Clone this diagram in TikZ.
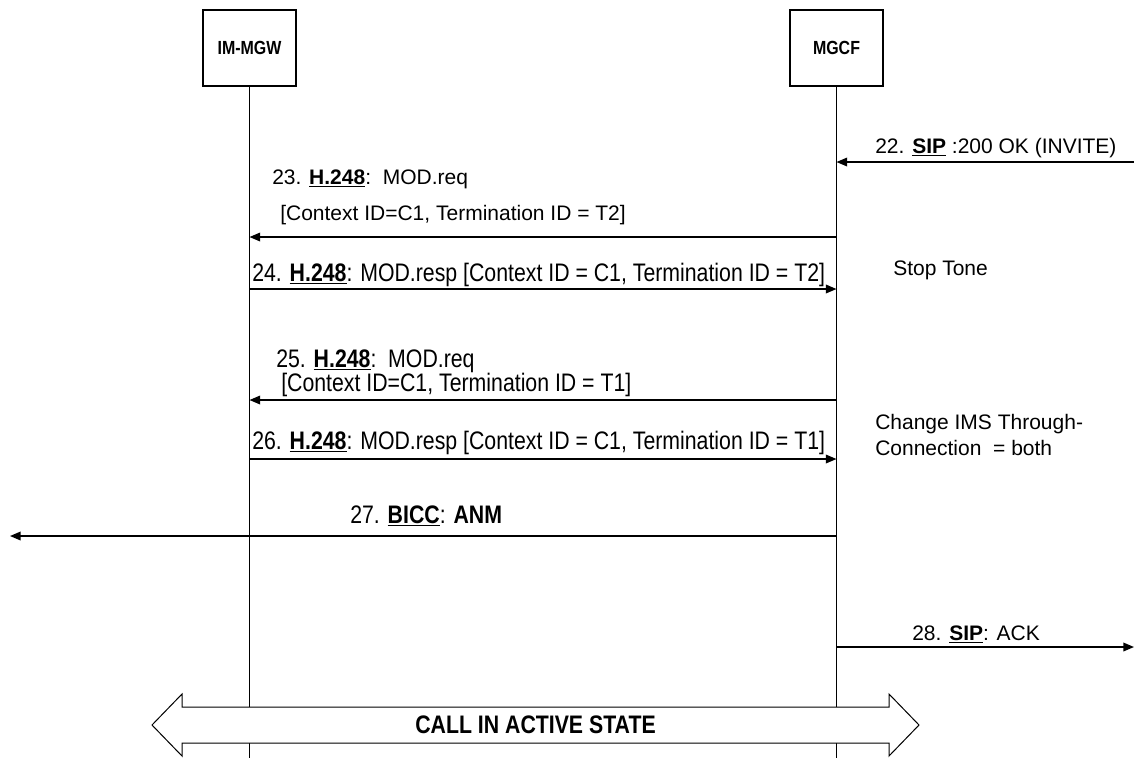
\documentclass[tikz,border=0pt]{standalone}
\usepackage{fontspec}
\setmainfont{Liberation Sans}
\newfontfamily\narrowfont[FakeStretch=0.84]{Liberation Sans}
\usetikzlibrary{arrows.meta,positioning}

\newcommand{\proto}[1]{\underline{\textbf{#1}}}

\begin{document}
\begin{tikzpicture}[x=0.75pt,y=-0.75pt,
  entity/.style={rectangle,draw,line width=1.5pt,minimum width=69.75pt,minimum height=57pt,font=\narrowfont\fontsize{14.25}{16}\selectfont\bfseries},
  lifeline/.style={line width=0.75pt},
  msg/.style={-{Triangle[length=8pt,width=6.5pt]},line width=1.1pt},
  note/.style={anchor=base west,inner sep=0pt,font=\fontsize{15.75}{18}\selectfont},
  narrownote/.style={anchor=base west,inner sep=0pt,font=\narrowfont\fontsize{19}{21}\selectfont}
]
\useasboundingbox (0,0) rectangle (1134,758);

\node[entity] (mgw) at (249.5,48) {IM-MGW};
\node[entity] (mgcf) at (836.5,48) {MGCF};
\coordinate (mgwend) at (249.5,758);
\coordinate (mgcfend) at (836.5,758);
\draw[lifeline] (mgw) -- (mgwend);
\draw[lifeline] (mgcf) -- (mgcfend);

% message levels on both lifelines
\foreach \y/\n in {162/22,237/23,289/24,400/25,459/26,536/27,647/28}{
  \coordinate (mgw\n) at (249.5,\y);
  \coordinate (mgcf\n) at (836.5,\y);
}
\coordinate (right22) at (1134,162);
\coordinate (left27) at (10,536);
\coordinate (right28) at (1134,647);

\node[note] (l22) at (875,153) {22. \proto{SIP} :200 OK (INVITE)};
\draw[msg] (right22) -- (mgcf22);

\node[note] (l23a) at (272,184) {23. \proto{H.248}:\ \ MOD.req};
\node[note] (l23b) at (280,220) {[Context ID=C1, Termination ID = T2]};
\draw[msg] (mgcf23) -- (mgw23);

\node[narrownote] (l24) at (252,281) {24. \proto{H.248}: MOD.resp [Context ID = C1, Termination ID = T2]};
\draw[msg] (mgw24) -- (mgcf24);
\node[note] (stop) at (893,275) {Stop Tone};

\node[narrownote] (l25a) at (276,367) {25. \proto{H.248}:\ \ MOD.req};
\node[narrownote] (l25b) at (281,391) {[Context ID=C1, Termination ID = T1]};
\draw[msg] (mgcf25) -- (mgw25);

\node[note] (chg1) at (875,429) {Change IMS Through-};
\node[note] (chg2) at (875,455) {Connection\ \ = both};

\node[narrownote] (l26) at (252,449) {26. \proto{H.248}: MOD.resp [Context ID = C1, Termination ID = T1]};
\draw[msg] (mgw26) -- (mgcf26);

\node[narrownote] (l27) at (350,523) {27. \proto{BICC}: \textbf{ANM}};
\draw[msg] (mgcf27) -- (left27);

\node[note] (l28) at (912,640) {28. \proto{SIP}: ACK};
\draw[msg] (mgcf28) -- (right28);

% call state band
\draw[line width=0.75pt,fill=white] (152,725) -- (182,694) -- (182,707) -- (889,707) -- (889,694)
  -- (919,725) -- (889,756) -- (889,743) -- (182,743) -- (182,756) -- cycle;
\node[font=\narrowfont\fontsize{19}{21}\selectfont\bfseries,inner sep=0pt] (active) at (535.5,725) {CALL IN ACTIVE STATE};
\end{tikzpicture}
\end{document}
